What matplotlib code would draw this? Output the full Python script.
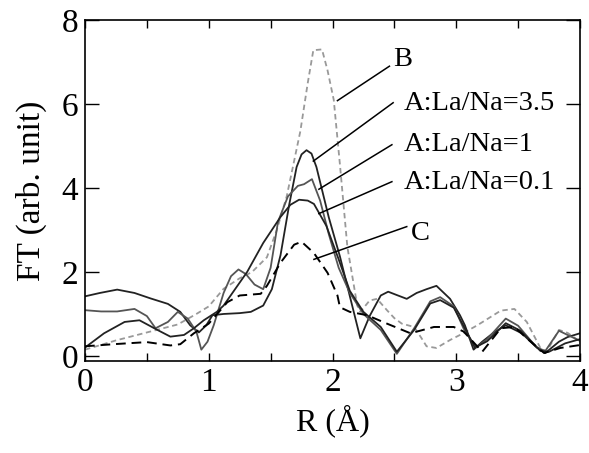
import matplotlib
matplotlib.use("Agg")
import matplotlib.pyplot as plt
from matplotlib.ticker import MultipleLocator

# ---- data ----
r_B = [0.0, 0.25, 0.5, 0.75, 0.9, 1.0, 1.12, 1.25, 1.35, 1.47, 1.55, 1.63, 1.74, 1.8, 1.845,
       1.915, 1.96, 2.01, 2.06, 2.12, 2.2, 2.225, 2.3, 2.36, 2.44, 2.5, 2.56, 2.66, 2.72, 2.76,
       2.84, 2.95, 3.03, 3.17, 3.36, 3.47, 3.57, 3.68, 3.73, 3.83, 3.9, 4.0]
ft_B = [0.15, 0.37, 0.56, 0.75, 1.0, 1.18, 1.6, 1.85, 2.0, 2.35, 3.0, 3.8, 5.35, 6.5, 7.28,
        7.3, 6.8, 6.1, 4.56, 2.6, 1.2, 1.05, 1.32, 1.36, 1.09, 0.9, 0.77, 0.69, 0.42, 0.23,
        0.19, 0.38, 0.5, 0.73, 1.08, 1.12, 0.81, 0.19, 0.1, 0.62, 0.55, 0.34]

r_A35 = [0.0, 0.12, 0.26, 0.4, 0.53, 0.67, 0.77, 0.85, 0.92, 0.98, 1.03, 1.12, 1.25, 1.34,
         1.44, 1.51, 1.58, 1.65, 1.71, 1.75, 1.79, 1.83, 1.87, 1.92, 1.97, 2.06, 2.225, 2.3,
         2.39, 2.45, 2.52, 2.6, 2.68, 2.76, 2.84, 2.95, 3.03, 3.07, 3.14, 3.21, 3.3, 3.4,
         3.53, 3.64, 3.72, 3.83, 3.9, 4.0]
ft_A35 = [1.42, 1.5, 1.58, 1.5, 1.37, 1.24, 1.05, 0.73, 0.56, 0.73, 0.97, 1.0, 1.02, 1.05,
          1.2, 1.59, 2.4, 3.6, 4.5, 4.8, 4.9, 4.82, 4.5, 3.9, 3.3, 2.37, 0.42, 0.95,
          1.44, 1.53, 1.45, 1.36, 1.5, 1.59, 1.67, 1.36, 0.97, 0.73, 0.15, 0.34, 0.55, 0.73,
          0.54, 0.23, 0.07, 0.34, 0.45, 0.54]

r_A1 = [0.0, 0.13, 0.26, 0.4, 0.5, 0.57, 0.67, 0.75, 0.83, 0.9, 0.94, 0.99, 1.04, 1.12,
        1.18, 1.24, 1.3, 1.37, 1.44, 1.5, 1.56, 1.64, 1.72, 1.77, 1.834, 1.9, 1.97, 2.05,
        2.14, 2.25, 2.39, 2.52, 2.66, 2.79, 2.87, 2.98, 3.06, 3.16, 3.25, 3.4, 3.5, 3.65,
        3.72, 3.83, 3.9, 4.0]
ft_A1 = [1.09, 1.06, 1.06, 1.12, 0.95, 0.66, 0.81, 1.05, 0.89, 0.58, 0.15, 0.34, 0.73, 1.5,
         1.9, 2.06, 1.95, 1.7, 1.59, 2.1, 3.2, 3.8, 4.05, 4.09, 4.21, 3.7, 2.9, 2.1,
         1.5, 1.0, 0.62, 0.05, 0.66, 1.3, 1.4, 1.18, 0.65, 0.2, 0.4, 0.89, 0.72, 0.2,
         0.12, 0.6, 0.5, 0.36]

r_A01 = [0.0, 0.154, 0.32, 0.44, 0.585, 0.69, 0.8, 0.88, 0.96, 1.065, 1.12, 1.31, 1.44,
         1.58, 1.66, 1.73, 1.8, 1.85, 1.95, 2.05, 2.14, 2.25, 2.39, 2.52, 2.66, 2.79, 2.87,
         2.98, 3.08, 3.15, 3.25, 3.4, 3.52, 3.68, 3.75, 3.88, 4.0]
ft_A01 = [0.2, 0.54, 0.81, 0.85, 0.62, 0.46, 0.5, 0.66, 0.85, 1.05, 1.2, 2.0, 2.69,
          3.31, 3.6, 3.72, 3.7, 3.62, 3.1, 2.3, 1.55, 1.05, 0.69, 0.1, 0.62, 1.25, 1.33,
          1.15, 0.6, 0.2, 0.35, 0.78, 0.6, 0.12, 0.1, 0.3, 0.4]

r_C = [0.0, 0.23, 0.5, 0.69, 0.77, 0.88, 1.0, 1.15, 1.25, 1.42, 1.47, 1.58, 1.69, 1.75,
       1.85, 1.96, 2.04, 2.06, 2.14, 2.28, 2.44, 2.63, 2.82, 2.98, 3.06, 3.21, 3.36, 3.47,
       3.57, 3.71, 3.84, 4.0]
ft_C = [0.23, 0.28, 0.33, 0.25, 0.28, 0.54, 0.77, 1.28, 1.44, 1.48, 1.67, 2.22, 2.65, 2.72,
        2.45, 1.98, 1.44, 1.16, 1.05, 0.97, 0.77, 0.54, 0.69, 0.69, 0.58, 0.1, 0.66, 0.69,
        0.42, 0.07, 0.19, 0.26]

labels = ["B", "A:La/Na=3.5", "A:La/Na=1", "A:La/Na=0.1", "C"]
label_xy = [(2.49, 7.06), (2.575, 6.0), (2.575, 5.03), (2.575, 4.13), (2.63, 2.92)]
arrow_start = [(2.46, 6.9), (2.49, 6.03), (2.48, 5.03), (2.48, 4.15), (2.6, 3.08)]
arrow_end = [(2.04, 6.08), (1.845, 4.64), (1.89, 3.97), (1.89, 3.39), (1.85, 2.3)]

x_ticks = [0, 1, 2, 3, 4]
y_ticks = [0, 2, 4, 6, 8]

# ---- plotting ----
plt.rcParams['font.family'] = ['Liberation Serif', 'DejaVu Serif']

fig = plt.figure(figsize=(5.89, 4.53), dpi=100)
ax = fig.add_axes([85 / 589, 1 - 361 / 453, 495 / 589, 341 / 453])

ax.plot(r_B, ft_B, color='#999999', lw=1.3, linestyle=(0, (3, 2)))
ax.plot(r_A35, ft_A35, color='#222222', lw=1.3)
ax.plot(r_A1, ft_A1, color='#555555', lw=1.3)
ax.plot(r_A01, ft_A01, color='#222222', lw=1.3)
ax.plot(r_C, ft_C, color='black', lw=1.4, linestyle=(0, (5, 3)))

for lab, (tx, ty), (sx, sy), (ex, ey) in zip(labels, label_xy, arrow_start, arrow_end):
    ax.plot([sx, ex], [sy, ey], color='black', lw=1.1)
    ax.text(tx, ty, lab, fontsize=20.5, ha='left', va='center')

ax.set_xlim(0, 4)
ax.set_ylim(-0.12, 8)
ax.set_xticks(x_ticks)
ax.set_yticks(y_ticks)
ax.xaxis.set_minor_locator(MultipleLocator(0.5))
ax.tick_params(axis='both', which='both', direction='in', top=True, right=True,
               labelsize=24, width=1.0)
ax.tick_params(axis='x', which='both', length=6, pad=5)
ax.tick_params(axis='y', which='major', length=10, pad=5)
for s in ax.spines.values():
    s.set_linewidth(1.2)

ax.set_xlabel('R (Å)', fontsize=23, labelpad=4)
ax.set_ylabel('FT (arb. unit)', fontsize=24, labelpad=10)

fig.savefig('out.png', dpi=100)
